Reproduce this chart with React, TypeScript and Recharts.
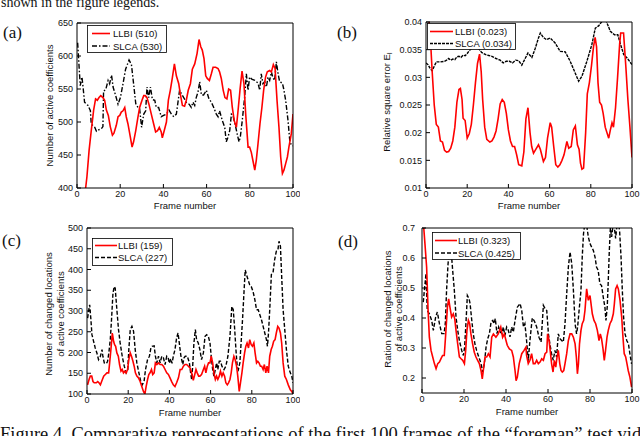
import React from "react";
import { LineChart, Line, XAxis, YAxis } from "recharts";

type Pt = [number, number];

const frameTicks = [0, 20, 40, 60, 80, 100];

// (a) number of active coefficients
const activeTicks = [400, 450, 500, 550, 600, 650];
const activeLLBI: Pt[] = [
  [1, 340], [4.0, 400], [4.6, 417], [5.6, 457], [6.6, 487], [7.7, 518], [8.6, 535], [9.4, 533], [10.2, 537],
  [11.0, 540], [12.0, 537], [12.8, 533], [13.6, 518], [14.5, 510], [15.4, 493], [16.4, 480], [17.1, 483],
  [18.2, 495], [19.0, 508], [19.8, 510], [20.5, 515], [21.3, 517], [22.1, 522], [22.8, 508], [23.6, 497],
  [24.7, 477], [25.5, 462], [26.2, 470], [27.2, 487], [28.1, 505], [29.0, 522], [30.1, 533], [30.9, 540],
  [31.6, 540], [32.4, 537], [33.3, 527], [34.4, 512], [35.5, 497], [36.4, 485], [37.3, 487], [38.1, 492],
  [39.0, 485], [39.5, 476], [40.4, 487], [41.4, 500], [42.3, 533], [43.2, 548], [44.1, 566], [45.1, 588],
  [46.0, 570], [47.1, 558], [47.8, 543], [48.8, 525], [49.8, 524], [50.6, 533], [51.5, 548], [52.5, 558],
  [53.4, 580], [54.5, 588], [55.6, 604], [56.5, 625], [57.3, 614], [58.0, 609], [58.8, 596], [59.6, 570],
  [60.3, 566], [61.3, 563], [62.2, 573], [63.0, 583], [64.2, 583], [65.3, 581], [66.0, 576], [66.8, 566],
  [67.7, 548], [68.5, 537], [69.4, 535], [70.2, 550], [71.1, 548], [71.9, 522], [72.8, 502], [73.8, 492],
  [74.7, 522], [75.5, 550], [76.4, 577], [77.3, 558], [78.1, 512], [79.2, 462], [79.9, 462], [80.7, 454],
  [81.6, 439], [82.3, 427], [83.0, 442], [83.8, 467], [84.7, 497], [85.6, 522], [86.4, 548], [87.3, 568],
  [88.1, 576], [89.2, 578], [90.0, 576], [90.9, 587], [91.7, 581], [92.6, 533], [93.5, 492], [94.3, 447],
  [95.1, 422], [95.8, 427], [96.6, 437], [97.4, 447], [98.1, 462], [99.2, 482], [100, 512],
];
const activeSLCA: Pt[] = [
  [0.3, 620], [1.5, 555], [2.3, 568], [2.8, 553], [3.5, 530], [5.1, 525], [6.2, 517], [6.6, 497], [8.2, 492],
  [9.0, 486], [10.5, 489], [11.3, 490], [12.0, 493], [12.3, 547], [13.3, 549], [14.4, 563], [15.1, 558],
  [16.0, 571], [16.7, 553], [17.9, 540], [19.0, 527], [20.1, 537], [21.3, 558], [22.5, 580], [24.1, 594],
  [25.2, 587], [26.2, 558], [27.2, 528], [28.2, 522], [29.0, 520], [29.9, 492], [30.9, 512], [31.8, 517],
  [32.4, 553], [33.2, 537], [34.0, 553], [34.9, 534], [36.0, 533], [36.7, 522], [37.8, 522], [39.0, 508],
  [40.1, 510], [41.4, 512], [42.6, 518], [43.7, 512], [44.8, 508], [46.0, 512], [47.5, 548], [48.3, 543],
  [49.4, 537], [50.6, 530], [51.9, 527], [52.9, 522], [53.7, 530], [54.5, 525], [55.2, 537], [56.0, 545],
  [56.8, 561], [57.6, 541], [58.6, 541], [59.9, 548], [61.1, 535], [62.2, 530], [63.3, 522], [64.5, 512],
  [65.3, 508], [66.0, 517], [67.3, 502], [68.4, 492], [69.1, 470], [69.9, 477], [70.7, 487], [71.5, 512],
  [72.2, 510], [73.5, 492], [74.5, 477], [75.0, 470], [75.6, 477], [76.5, 502], [77.6, 537], [78.4, 573],
  [79.2, 548], [79.9, 568], [80.9, 565], [82.3, 563], [83.8, 559], [84.6, 548], [85.3, 573], [86.1, 558],
  [86.9, 561], [87.7, 553], [88.4, 568], [89.2, 563], [90.0, 576], [90.7, 567], [91.5, 563], [92.3, 591],
  [93.1, 573], [93.8, 561], [95.1, 559], [95.7, 550], [96.6, 533], [97.7, 502], [98.5, 472], [99.2, 465],
  [100, 464],
];

// (b) relative square error
const errorTicks = [0.01, 0.015, 0.02, 0.025, 0.03, 0.035, 0.04];
const errorLLBI: Pt[] = [
  [1, 0.042], [2, 0.038], [3, 0.031], [4, 0.025], [5, 0.0215], [6, 0.021], [7, 0.0185], [8, 0.0183],
  [9, 0.0168], [10, 0.0165], [11, 0.0166], [12, 0.0172], [13, 0.0185], [14, 0.021], [15, 0.0255],
  [16, 0.0278], [16.7, 0.028], [17.5, 0.026], [18, 0.0226], [19, 0.0222], [20, 0.019], [21, 0.0198],
  [22, 0.0215], [23, 0.025], [24, 0.029], [25, 0.0325], [26, 0.0342], [26.8, 0.031], [27.5, 0.026],
  [28.5, 0.021], [29.5, 0.0188], [31, 0.0183], [32, 0.0185], [33, 0.0192], [34, 0.0203], [35, 0.0225],
  [36, 0.0252], [37, 0.026], [38, 0.0255], [39, 0.0235], [40, 0.0205], [41, 0.0185], [42, 0.0175],
  [43, 0.0175], [44, 0.016], [45, 0.0142], [46.5, 0.014], [47.5, 0.0165], [48.5, 0.0225], [49.5, 0.0245],
  [50.5, 0.02], [51.3, 0.0175], [52.2, 0.0163], [53, 0.0168], [54.6, 0.0178], [55.5, 0.017], [57, 0.0148],
  [58, 0.0155], [59, 0.019], [60.3, 0.0218], [61, 0.021], [62, 0.0175], [63, 0.0142], [64, 0.0138],
  [65, 0.0142], [66, 0.015], [67, 0.016], [68.4, 0.0184], [69.3, 0.0172], [70.5, 0.0175], [71.5, 0.0205],
  [72.5, 0.0212], [73.5, 0.0178], [74.3, 0.017], [75, 0.0145], [75.7, 0.0134], [76.5, 0.0136], [77.5, 0.02],
  [78.3, 0.027], [79.3, 0.029], [80.3, 0.032], [81.3, 0.0355], [82.1, 0.0372], [82.8, 0.0355], [83.5, 0.029],
  [84.3, 0.0255], [85.2, 0.025], [86, 0.0235], [87, 0.021], [88.7, 0.019], [89.5, 0.0205], [90.3, 0.0218],
  [91, 0.021], [92, 0.0245], [93, 0.03], [94, 0.036], [94.5, 0.038], [95.9, 0.038], [97, 0.032], [98, 0.026],
  [99, 0.021], [100, 0.0155],
];
const errorSLCA: Pt[] = [
  [0, 0.0326], [1, 0.0323], [2, 0.0316], [3, 0.0312], [4, 0.032], [5, 0.0328], [7, 0.0328], [9, 0.0329],
  [10, 0.0331], [11, 0.0334], [12, 0.0331], [13, 0.0333], [14, 0.0332], [15, 0.0337], [16, 0.0338],
  [17, 0.0336], [18, 0.034], [19, 0.0339], [20, 0.0343], [21, 0.0348], [22, 0.0352], [23, 0.0356],
  [24, 0.0358], [25, 0.0354], [26, 0.035], [27, 0.0345], [28, 0.0343], [29, 0.0341], [30, 0.034],
  [32, 0.0338], [34, 0.0334], [36, 0.0331], [37.5, 0.0326], [39, 0.0329], [40.5, 0.0329], [42, 0.0326],
  [43.5, 0.0331], [45, 0.033], [46.5, 0.0322], [48, 0.0333], [49.5, 0.0344], [51.4, 0.0336], [53, 0.0352],
  [54.5, 0.037], [55.5, 0.038], [57, 0.0372], [58.5, 0.0368], [60.3, 0.0371], [62.7, 0.0362], [65.1, 0.0347],
  [67.6, 0.0346], [70, 0.0329], [72.4, 0.0308], [74.1, 0.0293], [75.7, 0.0302], [78.1, 0.0329], [80.5, 0.0359],
  [82.2, 0.0389], [83.8, 0.0393], [85.4, 0.0401], [86.3, 0.041], [87.9, 0.0398], [89.5, 0.0383],
  [91.5, 0.0377], [93.1, 0.0377], [94.4, 0.036], [96, 0.0341], [97.6, 0.0335], [100, 0.0323],
];

// (c) number of changed locations
const changedTicks = [100, 150, 200, 250, 300, 350, 400, 450, 500];
const changedLLBI: Pt[] = [
  [0.3, 122], [1.0, 135], [1.6, 143], [2.3, 143], [2.9, 130], [3.5, 127], [4.5, 127], [5.2, 130], [5.8, 127],
  [6.5, 122], [7.1, 130], [8.1, 143], [8.9, 147], [9.7, 151], [10.5, 151], [11.0, 175], [11.6, 207],
  [12.3, 247], [12.9, 227], [13.4, 219], [13.9, 215], [14.5, 199], [15.2, 191], [15.8, 171], [16.5, 155],
  [17.1, 159], [17.7, 151], [18.4, 155], [19.0, 151], [19.7, 159], [20.3, 183], [21.0, 199], [21.6, 191],
  [22.3, 179], [22.9, 167], [23.5, 151], [24.2, 143], [25.0, 139], [25.8, 130], [26.6, 118], [27.4, 106],
  [28.1, 100], [28.7, 118], [29.4, 135], [30.0, 147], [30.6, 151], [31.3, 159], [31.9, 147], [32.6, 151],
  [33.2, 175], [33.9, 171], [34.7, 175], [35.5, 171], [36.3, 171], [37.1, 167], [37.9, 159], [38.7, 151],
  [39.5, 147], [40.3, 139], [41.1, 130], [41.9, 122], [42.7, 118], [43.5, 127], [44.4, 139], [45.2, 159],
  [46.0, 159], [46.8, 167], [47.6, 171], [48.4, 171], [49.2, 167], [50.0, 163], [50.8, 151], [51.6, 133],
  [52.3, 147], [52.9, 159], [53.5, 151], [54.2, 143], [54.8, 143], [55.6, 147], [56.5, 159], [57.1, 167],
  [57.7, 151], [58.4, 167], [59.0, 175], [59.7, 175], [60.3, 191], [61.0, 175], [61.6, 151], [62.3, 135],
  [62.9, 143], [63.5, 135], [64.2, 143], [64.8, 155], [65.5, 143], [66.1, 151], [66.8, 143], [67.4, 127],
  [68.1, 122], [68.7, 127], [69.4, 135], [70.0, 151], [70.6, 175], [71.3, 191], [71.9, 183], [72.6, 167],
  [73.2, 143], [73.9, 106], [74.5, 127], [75.2, 151], [75.8, 175], [76.5, 199], [77.1, 215], [77.7, 223],
  [78.4, 211], [79.0, 231], [79.7, 219], [80.3, 215], [81.0, 223], [81.6, 199], [82.3, 175], [82.9, 179],
  [83.5, 175], [84.2, 167], [84.8, 167], [85.5, 159], [86.1, 171], [86.8, 151], [87.4, 167], [88.1, 151],
  [88.7, 191], [89.4, 207], [90.0, 215], [90.6, 227], [91.3, 231], [91.9, 247], [92.6, 263], [93.2, 259],
  [93.9, 247], [94.5, 223], [95.2, 175], [96.0, 143], [96.8, 135], [97.7, 122], [98.7, 110], [99.4, 106],
  [100, 100],
];
const changedSLCA: Pt[] = [
  [0.3, 283], [1.0, 307], [1.3, 315], [1.9, 279], [2.4, 243], [3.2, 227], [4.0, 211], [4.8, 199], [5.6, 183],
  [6.5, 191], [7.3, 207], [7.7, 191], [8.4, 175], [9.4, 173], [10.0, 179], [10.6, 199], [11.3, 231],
  [11.9, 279], [12.6, 343], [13.2, 359], [13.7, 355], [14.5, 303], [15.3, 255], [16.1, 223], [17.1, 191],
  [18.1, 167], [19.0, 151], [19.8, 159], [20.3, 207], [21.0, 255], [21.8, 263], [22.6, 251], [23.4, 207],
  [24.2, 175], [25.2, 151], [26.1, 130], [26.8, 122], [27.7, 130], [28.4, 159], [29.4, 183], [30.3, 191],
  [31.0, 211], [31.6, 215], [32.6, 216], [33.2, 191], [33.9, 175], [34.7, 191], [35.5, 175], [36.3, 191],
  [37.1, 187], [37.9, 171], [38.7, 191], [39.4, 187], [40.0, 174], [40.6, 185], [41.3, 174], [41.9, 191],
  [42.7, 207], [43.5, 235], [44.2, 247], [44.8, 223], [45.6, 191], [46.5, 171], [47.1, 187], [47.7, 191],
  [48.7, 191], [49.7, 175], [50.3, 151], [50.8, 135], [51.3, 167], [51.9, 223], [52.6, 255], [53.2, 231],
  [54.0, 223], [54.8, 207], [55.6, 183], [56.5, 199], [57.3, 239], [58.1, 243], [58.9, 239], [59.7, 223],
  [60.3, 191], [61.0, 159], [61.6, 143], [62.3, 159], [62.9, 175], [63.5, 159], [64.2, 179], [64.8, 179],
  [65.5, 167], [66.5, 159], [67.4, 167], [68.4, 191], [69.4, 239], [70.3, 311], [71.0, 303], [71.6, 263],
  [72.3, 207], [72.9, 167], [73.5, 159], [74.2, 175], [74.8, 223], [75.5, 279], [76.1, 335], [76.8, 399],
  [77.4, 388], [78.2, 375], [79.0, 363], [79.8, 358], [80.6, 347], [81.5, 327], [82.3, 303], [83.1, 303],
  [83.9, 291], [84.7, 279], [85.5, 263], [86.3, 247], [87.1, 231], [87.6, 215], [88.1, 247], [88.7, 303],
  [89.5, 388], [90.3, 392], [91.1, 424], [91.9, 444], [92.7, 448], [93.2, 468], [93.9, 456], [94.5, 384],
  [95.2, 303], [96.0, 255], [96.8, 207], [97.7, 167], [98.7, 151], [99.4, 143], [100, 127],
];

// (d) ratio of changed locations
const ratioTicks = [0.2, 0.3, 0.4, 0.5, 0.6, 0.7];
const ratioLLBI: Pt[] = [
  [0.3, 0.75], [1.4, 0.648], [2.2, 0.57], [2.9, 0.425], [3.5, 0.336], [4.3, 0.292], [5.1, 0.27], [5.9, 0.248],
  [6.7, 0.231], [7.5, 0.248], [8.3, 0.253], [9.0, 0.264], [9.8, 0.275], [10.6, 0.275], [11.3, 0.347],
  [12.1, 0.436], [12.7, 0.464], [13.3, 0.436], [14.1, 0.403], [14.9, 0.414], [15.6, 0.397], [16.2, 0.359],
  [17.0, 0.314], [17.8, 0.27], [18.6, 0.264], [19.4, 0.259], [20.2, 0.248], [20.8, 0.292], [21.4, 0.359],
  [22.1, 0.392], [22.7, 0.381], [23.3, 0.347], [24.1, 0.314], [24.9, 0.286], [25.7, 0.27], [26.5, 0.259],
  [27.3, 0.248], [28.1, 0.225], [28.7, 0.197], [29.2, 0.225], [30.0, 0.27], [30.8, 0.27], [31.6, 0.281],
  [32.4, 0.27], [33.2, 0.336], [34.0, 0.347], [35.2, 0.336], [36.3, 0.347], [37.5, 0.37], [38.4, 0.336],
  [39.2, 0.347], [40.0, 0.325], [40.6, 0.309], [41.6, 0.297], [42.7, 0.292], [43.5, 0.27], [44.3, 0.225],
  [44.8, 0.191], [45.4, 0.203], [46.3, 0.248], [47.5, 0.281], [48.6, 0.292], [49.5, 0.303], [49.8, 0.275],
  [50.6, 0.248], [51.4, 0.259], [52.2, 0.281], [53.0, 0.248], [53.8, 0.248], [54.6, 0.259], [55.4, 0.248],
  [56.2, 0.253], [57.0, 0.264], [57.8, 0.259], [58.6, 0.281], [59.4, 0.286], [59.8, 0.347], [60.5, 0.325],
  [61.2, 0.281], [61.7, 0.248], [62.4, 0.22], [63.0, 0.259], [63.7, 0.236], [64.3, 0.27], [64.9, 0.292],
  [65.6, 0.248], [66.2, 0.225], [66.8, 0.22], [67.5, 0.225], [68.1, 0.248], [68.9, 0.281], [69.7, 0.325],
  [70.5, 0.347], [71.3, 0.347], [72.1, 0.336], [72.9, 0.314], [73.5, 0.27], [74.0, 0.214], [74.5, 0.248],
  [75.0, 0.314], [75.7, 0.359], [76.3, 0.381], [77.0, 0.392], [77.6, 0.425], [78.4, 0.497], [79.2, 0.459],
  [80.0, 0.475], [80.5, 0.447], [81.1, 0.414], [81.9, 0.392], [82.7, 0.381], [83.5, 0.359], [84.3, 0.325],
  [84.9, 0.347], [85.5, 0.331], [86.2, 0.297], [86.8, 0.259], [87.4, 0.292], [88.1, 0.336], [88.7, 0.359],
  [89.5, 0.381], [90.3, 0.392], [91.1, 0.414], [91.6, 0.447], [92.2, 0.497], [92.9, 0.508], [93.5, 0.497],
  [94.3, 0.459], [95.1, 0.403], [95.7, 0.336], [96.3, 0.281], [97.0, 0.27], [97.6, 0.248], [98.2, 0.225],
  [99.0, 0.203], [99.8, 0.17],
];
const ratioSLCA: Pt[] = [
  [0.6, 0.453], [1.9, 0.548], [2.5, 0.425], [3.5, 0.414], [4.6, 0.392], [5.4, 0.359], [6.5, 0.403], [7.3, 0.42],
  [8.3, 0.381], [9.4, 0.348], [10.5, 0.348], [11.1, 0.381], [11.7, 0.492], [12.4, 0.58], [13.0, 0.625],
  [14.0, 0.614], [14.6, 0.559], [15.4, 0.492], [16.2, 0.403], [17.0, 0.359], [17.8, 0.325], [18.9, 0.292],
  [19.7, 0.275], [20.3, 0.303], [21.0, 0.392], [21.6, 0.475], [22.4, 0.464], [22.9, 0.448], [23.7, 0.392],
  [24.4, 0.348], [25.2, 0.314], [26.0, 0.292], [26.8, 0.275], [27.6, 0.259], [28.3, 0.242], [28.9, 0.22],
  [29.7, 0.248], [30.5, 0.303], [31.3, 0.331], [32.1, 0.348], [32.9, 0.387], [33.7, 0.392], [34.3, 0.381],
  [34.9, 0.398], [35.7, 0.348], [36.5, 0.37], [37.3, 0.353], [38.1, 0.348], [38.7, 0.37], [39.5, 0.342],
  [40.3, 0.37], [41.1, 0.359], [41.9, 0.337], [42.7, 0.37], [43.5, 0.353], [44.3, 0.392], [45.4, 0.436],
  [46.7, 0.448], [47.5, 0.425], [48.3, 0.37], [49.0, 0.381], [49.8, 0.325], [50.6, 0.258], [51.4, 0.325],
  [52.5, 0.4], [53.5, 0.39], [54.6, 0.37], [55.7, 0.336], [56.7, 0.32], [57.8, 0.442], [58.6, 0.431],
  [59.4, 0.425], [60.2, 0.347], [61.0, 0.309], [61.7, 0.281], [62.5, 0.259], [63.3, 0.292], [64.1, 0.27],
  [64.9, 0.347], [65.7, 0.331], [66.5, 0.325], [67.3, 0.32], [68.1, 0.381], [68.9, 0.481], [69.7, 0.57],
  [70.5, 0.62], [71.3, 0.581], [72.1, 0.492], [72.9, 0.381], [73.6, 0.347], [74.1, 0.37], [74.8, 0.425],
  [75.7, 0.492], [76.3, 0.603], [76.9, 0.68], [77.6, 0.72], [78.4, 0.71], [79.2, 0.67], [80.0, 0.648],
  [80.8, 0.636], [81.6, 0.625], [82.4, 0.603], [83.1, 0.57], [83.9, 0.559], [84.7, 0.514], [85.5, 0.508],
  [86.3, 0.47], [87.1, 0.436], [87.6, 0.392], [88.2, 0.436], [88.7, 0.525], [89.2, 0.625], [89.7, 0.7],
  [90.3, 0.67], [90.8, 0.7], [91.3, 0.72], [92.2, 0.665], [93.0, 0.72], [93.5, 0.72], [94.1, 0.69],
  [94.8, 0.6], [95.4, 0.49], [96.0, 0.403], [96.7, 0.347], [97.5, 0.325], [98.3, 0.314], [99.0, 0.281],
  [99.8, 0.247],
];

const legendA = ["LLBI (510)", "SLCA (530)"];
const legendB = ["LLBI (0.023)", "SLCA (0.034)"];
const legendC = ["LLBI (159)", "SLCA (227)"];
const legendD = ["LLBI (0.323)", "SLCA (0.425)"];

const SANS = '"Liberation Sans", Arial, sans-serif';
const SERIF = '"Liberation Serif", "Times New Roman", serif';
const RED = "#ff0000";

type Box = { x0: number; x1: number; y0: number; y1: number };

type PanelProps = {
  left: number;
  top: number;
  width: number;
  height: number;
  plot: Box;
  domain: [number, number];
  ticks: number[];
  tickGap: number;
  red: Pt[];
  black: Pt[];
  dash: string;
};

const toRows = (pts: Pt[]) => pts.map(([frame, value]) => ({ frame, value }));

function Panel(p: PanelProps) {
  const mTop = p.plot.y0 - p.top - 1;
  const mRight = p.left + p.width - p.plot.x1 - 1;
  const yWidth = p.plot.x0 - p.left;
  const xHeight = p.top + p.height - p.plot.y1;
  const tickStyle = { fontSize: 9, fill: "#111", fontFamily: SANS };
  return (
    <div style={{ position: "absolute", left: p.left, top: p.top }}>
      <LineChart width={p.width} height={p.height} margin={{ top: mTop, right: mRight, bottom: 0, left: 0 }}>
        <XAxis
          xAxisId="b"
          dataKey="frame"
          type="number"
          domain={[0, 100]}
          ticks={frameTicks}
          interval={0}
          allowDataOverflow
          height={xHeight}
          tickSize={-4}
          tickMargin={7}
          stroke="#000"
          tick={tickStyle}
        />
        <XAxis
          xAxisId="t"
          orientation="top"
          type="number"
          domain={[0, 100]}
          ticks={frameTicks}
          interval={0}
          height={1}
          tickSize={-4}
          tick={false}
          stroke="#000"
        />
        <YAxis
          yAxisId="l"
          type="number"
          domain={p.domain}
          ticks={p.ticks}
          interval={0}
          allowDataOverflow
          width={yWidth}
          tickSize={-4}
          tickMargin={p.tickGap}
          stroke="#000"
          tick={tickStyle}
        />
        <YAxis
          yAxisId="r"
          orientation="right"
          type="number"
          domain={p.domain}
          ticks={p.ticks}
          interval={0}
          width={1}
          tickSize={-4}
          tick={false}
          stroke="#000"
        />
        <Line
          xAxisId="b"
          yAxisId="l"
          data={toRows(p.black)}
          dataKey="value"
          type="linear"
          stroke="#000"
          strokeWidth={1.4}
          strokeDasharray={p.dash}
          dot={false}
          isAnimationActive={false}
        />
        <Line
          xAxisId="b"
          yAxisId="l"
          data={toRows(p.red)}
          dataKey="value"
          type="linear"
          stroke={RED}
          strokeWidth={1.6}
          dot={false}
          isAnimationActive={false}
        />
      </LineChart>
    </div>
  );
}

type LegendProps = { x: number; y: number; w: number; h: number; s0: number; s1: number; tx: number; rows: [number, number]; labels: string[]; dash: string };

function LegendBox(l: LegendProps) {
  return (
    <g>
      <rect x={l.x + 0.5} y={l.y + 0.5} width={l.w} height={l.h} fill="#fff" stroke="#000" strokeWidth={0.8} />
      <line x1={l.s0} x2={l.s1} y1={l.rows[0]} y2={l.rows[0]} stroke={RED} strokeWidth={1.6} />
      <line x1={l.s0} x2={l.s1} y1={l.rows[1]} y2={l.rows[1]} stroke="#000" strokeWidth={1.4} strokeDasharray={l.dash} />
      {l.labels.map((t, i) => (
        <text key={t} x={l.tx} y={l.rows[i]} fontSize={9.5} fontFamily={SANS} fill="#111" dominantBaseline="central">
          {t}
        </text>
      ))}
    </g>
  );
}

function VLabel({ x, y, text }: { x: number; y: number; text: string }) {
  return (
    <text transform={`translate(${x},${y}) rotate(-90)`} textAnchor="middle" fontSize={9.5} fontFamily={SANS} fill="#111" dominantBaseline="central">
      {text}
    </text>
  );
}

export default function App() {
  return (
    <div style={{ position: "absolute", left: 0, top: 0, width: 640, height: 436, background: "#fff", overflow: "hidden" }}>
      <Panel left={0} top={0} width={300} height={215} plot={{ x0: 77, x1: 293, y0: 23, y1: 188 }} domain={[400, 650]} ticks={activeTicks} tickGap={8} red={activeLLBI} black={activeSLCA} dash="5 2 1.5 2" />
      <Panel left={320} top={0} width={320} height={215} plot={{ x0: 426, x1: 632, y0: 22, y1: 188 }} domain={[0.01, 0.04]} ticks={errorTicks} tickGap={8} red={errorLLBI} black={errorSLCA} dash="3 1" />
      <Panel left={0} top={210} width={300} height={215} plot={{ x0: 87, x1: 293, y0: 228, y1: 394 }} domain={[100, 500]} ticks={changedTicks} tickGap={8} red={changedLLBI} black={changedSLCA} dash="4 2" />
      <Panel left={320} top={210} width={320} height={215} plot={{ x0: 422, x1: 632, y0: 228, y1: 393 }} domain={[0.15, 0.7]} ticks={ratioTicks} tickGap={11} red={ratioLLBI} black={ratioSLCA} dash="4 2" />
      <svg width={640} height={436} style={{ position: "absolute", left: 0, top: 0, pointerEvents: "none" }}>
        <text x={1} y={6.5} fontSize={14} fontFamily={SERIF} fill="#111">shown in the figure legends.</text>
        <text x={0} y={440} fontSize={18.5} fontFamily={SERIF} fill="#111">
          Figure 4. Comparative representations of the first 100 frames of the “foreman” test video
        </text>
        <text x={3} y={38} fontSize={17} fontFamily={SERIF} fill="#111">(a)</text>
        <text x={337} y={38} fontSize={17} fontFamily={SERIF} fill="#111">(b)</text>
        <text x={2} y={246} fontSize={17} fontFamily={SERIF} fill="#111">(c)</text>
        <text x={338} y={247} fontSize={17} fontFamily={SERIF} fill="#111">(d)</text>

        <VLabel x={49} y={105.5} text="Number of active coefficients" />
        <text transform="translate(386,102) rotate(-90)" textAnchor="middle" fontSize={9.5} fontFamily={SANS} fill="#111" dominantBaseline="central">
          Relative square error E<tspan fontSize={7} dy={3}>I</tspan>
        </text>
        <VLabel x={48} y={314} text="Number of changed locations" />
        <VLabel x={60} y={314} text="of active coefficients" />
        <VLabel x={387} y={309} text="Ration of changed locations" />
        <VLabel x={398} y={309} text="of active coefficients" />

        <text x={185} y={208.5} textAnchor="middle" fontSize={9.5} fontFamily={SANS} fill="#111">Frame number</text>
        <text x={529} y={209} textAnchor="middle" fontSize={9.5} fontFamily={SANS} fill="#111">Frame number</text>
        <text x={190} y={415.5} textAnchor="middle" fontSize={9.5} fontFamily={SANS} fill="#111">Frame number</text>
        <text x={527} y={415} textAnchor="middle" fontSize={9.5} fontFamily={SANS} fill="#111">Frame number</text>

        <LegendBox x={87} y={25} w={79} h={27} s0={92} s1={110} tx={113} rows={[33.5, 46]} labels={legendA} dash="5 2 1.5 2" />
        <LegendBox x={427} y={23} w={88} h={26} s0={430} s1={453} tx={455} rows={[31.5, 43.5]} labels={legendB} dash="3 1" />
        <LegendBox x={92} y={238} w={80} h={27} s0={95} s1={117} tx={118} rows={[245.5, 257.5]} labels={legendC} dash="4 2" />
        <LegendBox x={432} y={232} w={88} h={27} s0={435} s1={457} tx={458} rows={[240.5, 253]} labels={legendD} dash="4 2" />
      </svg>
    </div>
  );
}
